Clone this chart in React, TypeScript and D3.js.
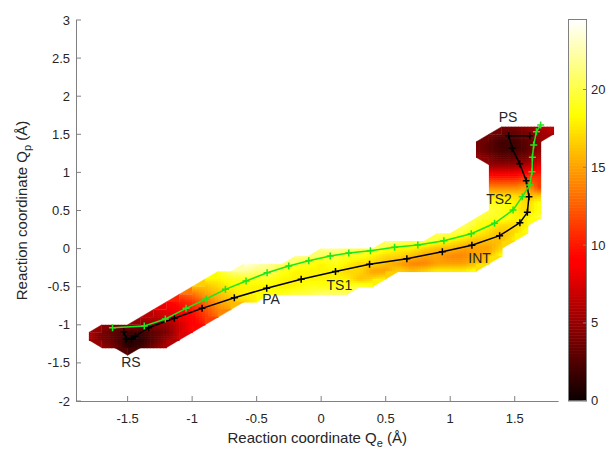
import React from "react";
import * as d3 from "d3";

// ---- data ----
const xDomain: [number, number] = [-1.9, 1.84];
const yDomain: [number, number] = [-2, 3];
const xTicks = [-1.5, -1, -0.5, 0, 0.5, 1, 1.5];
const yTicks = [-2, -1.5, -1, -0.5, 0, 0.5, 1, 1.5, 2, 2.5, 3];
const cTicks = [0, 5, 10, 15, 20];
const cDomain: [number, number] = [0, 24.5];

// energy grid: columns X = gridX0 + i*gridStep, rows Y = gridY0 - j*gridStep
const gridX0 = -1.8;
const gridY0 = 1.6;
const gridStep = 0.1;
const gridCols = 37;
const levelChars = "0123456789ABCDEFGHIJKLMNO"; // 0..24
// [first column index, values]
const energyRows: [number, string][] = [
  [32, "44567"],
  [31, "433456"],
  [30, "432235"],
  [30, "432235"],
  [30, "543346"],
  [31, "55568"],
  [31, "8889A"],
  [31, "BBBCB"],
  [31, "EEEFB"],
  [31, "HHHGG"],
  [31, "JJIHJ"],
  [31, "KJIHJ"],
  [30, "KJJIIK"],
  [29, "LJIHHI"],
  [27, "LKJIHGHJ"],
  [23, "MLKKJIHGGGI"],
  [18, "MMLKKJIIHGGFFFH"],
  [16, "MLKKJJIHHGFFEEFGJ"],
  [12, "ONMLKJIJIHHGFEEFFFGH"],
  [10, "JLMLLJIIIIHHFFHGHIIIJ"],
  [9, "IIJJJJIIIIIIGHI"],
  [8, "GGHIIIIIIJJJJKJ"],
  [7, "CDFGHIIJJKKLLL"],
  [6, "9ABDFGHI"],
  [5, "789ACEF"],
  [4, "66789BD"],
  [1, "54545579A"],
  [0, "643223479"],
  [0, "64311357"],
  [1, "541246"],
  [3, "3"],
];

const blackPath: [number, number][] = [
  [-1.53, -1.09], [-1.51, -1.19], [-1.47, -1.19], [-1.44, -1.15],
  [-1.337, -1.038], [-1.138, -0.915], [-0.923, -0.784], [-0.673, -0.644],
  [-0.422, -0.521], [-0.155, -0.403], [0.111, -0.3], [0.375, -0.206],
  [0.664, -0.133], [0.939, -0.04], [1.168, 0.043], [1.383, 0.17],
  [1.54, 0.34], [1.598, 0.476], [1.61, 0.681], [1.59, 0.889],
  [1.538, 1.115], [1.48, 1.316], [1.453, 1.482], [1.616, 1.482],
];

const greenPath: [number, number][] = [
  [-1.617, -1.038], [-1.371, -1.016], [-1.208, -0.924], [-1.047, -0.784],
  [-0.892, -0.661], [-0.742, -0.535], [-0.582, -0.426], [-0.419, -0.316],
  [-0.251, -0.228], [-0.096, -0.159], [0.07, -0.097], [0.214, -0.058],
  [0.382, -0.028], [0.569, 0.017], [0.749, 0.047], [0.951, 0.104],
  [1.163, 0.196], [1.344, 0.332], [1.487, 0.507], [1.559, 0.681],
  [1.616, 0.835], [1.634, 1.009], [1.637, 1.198], [1.647, 1.36],
  [1.668, 1.534], [1.701, 1.622],
];

const stateLabels = ["RS", "PA", "TS1", "INT", "TS2", "PS"];
const stateX = [-1.474, -0.388, 0.141, 1.228, 1.378, 1.448];
const stateY = [-1.483, -0.66, -0.484, -0.127, 0.647, 1.731];

// ---- helpers ----
function hot(t: number): string {
  const c = (v: number) => Math.max(0, Math.min(1, v));
  const r = c((t + 0.015) / 0.375);
  const g = c((t - 0.375) / 0.375);
  const b = c((t - 0.75) / 0.25);
  return d3.rgb(r * 255, g * 255, b * 255).formatHex();
}

const FONT = "'Liberation Sans', Arial, Helvetica, sans-serif";
const TEXT = "#262626";
const AXIS = "#808080";

export default function App() {
  const left = 76, right = 558.6, top = 20, bottom = 401;
  const x = d3.scaleLinear().domain(xDomain).range([left, right]);
  const y = d3.scaleLinear().domain(yDomain).range([bottom, top]);
  const color = d3.scaleSequential(hot).domain(cDomain);

  // build node grid
  const nodes: (number | null)[][] = energyRows.map(([start, vals]) => {
    const row: (number | null)[] = new Array(gridCols).fill(null);
    vals.split("").forEach((ch, k) => {
      row[start + k] = levelChars.indexOf(ch);
    });
    return row;
  });
  const gx = (i: number) => gridX0 + i * gridStep;
  const gy = (j: number) => gridY0 - j * gridStep;

  const cells: React.ReactNode[] = [];
  const n = 4;
  for (let j = 0; j < nodes.length - 1; j++) {
    for (let i = 0; i < gridCols - 1; i++) {
      const v00 = nodes[j][i], v10 = nodes[j][i + 1];
      const v01 = nodes[j + 1][i], v11 = nodes[j + 1][i + 1];
      const corners: [number, number, number | null][] = [
        [i, j, v00], [i + 1, j, v10], [i + 1, j + 1, v11], [i, j + 1, v01],
      ];
      const def = corners.filter((c) => c[2] !== null);
      if (def.length === 4) {
        for (let a = 0; a < n; a++) {
          for (let b = 0; b < n; b++) {
            const u = (a + 0.5) / n, w = (b + 0.5) / n;
            const v =
              (v00 as number) * (1 - u) * (1 - w) +
              (v10 as number) * u * (1 - w) +
              (v01 as number) * (1 - u) * w +
              (v11 as number) * u * w;
            const x0 = x(gx(i + a / n)), x1 = x(gx(i + (a + 1) / n));
            const y0 = y(gy(j + b / n)), y1 = y(gy(j + (b + 1) / n));
            cells.push(
              <rect key={`c${i}-${j}-${a}-${b}`} x={x0} y={y0}
                width={x1 - x0 + 0.6} height={y1 - y0 + 0.6} fill={color(v)} />
            );
          }
        }
      } else if (def.length === 3) {
        const avg = d3.mean(def, (c) => c[2] as number) as number;
        const pts = def.map((c) => `${x(gx(c[0]))},${y(gy(c[1]))}`).join(" ");
        cells.push(
          <polygon key={`t${i}-${j}`} points={pts} fill={color(avg)}
            stroke={color(avg)} strokeWidth={0.5} />
        );
      }
    }
  }

  const line = d3.line<[number, number]>().x((d) => x(d[0])).y((d) => y(d[1]));
  const plus = (p: [number, number], col: string, key: string) => {
    const px = x(p[0]), py = y(p[1]), s = 3.5;
    return (
      <path key={key} d={`M${px - s},${py}H${px + s}M${px},${py - s}V${py + s}`}
        stroke={col} strokeWidth={1.5} />
    );
  };

  // colorbar
  const cbL = 568, cbR = 587, cbTop = 19.5, cbBot = 400.7;
  const cy = d3.scaleLinear().domain(cDomain).range([cbBot, cbTop]);
  const steps = 128;
  const cbRects = d3.range(steps).map((k) => {
    const v0 = cDomain[0] + (k / steps) * (cDomain[1] - cDomain[0]);
    const v1 = cDomain[0] + ((k + 1) / steps) * (cDomain[1] - cDomain[0]);
    return (
      <rect key={`cb${k}`} x={cbL} y={cy(v1)} width={cbR - cbL}
        height={cy(v0) - cy(v1) + 0.5} fill={color((v0 + v1) / 2)} />
    );
  });

  const green = "#1ee61e";

  return (
    <svg width={608} height={450} style={{ display: "block", position: "absolute", left: 0, top: 0 }}
      fontFamily={FONT}>
      <rect x={0} y={0} width={608} height={450} fill="#ffffff" />
      <g>{cells}</g>

      {/* paths */}
      <path d={line(blackPath) as string} fill="none" stroke="#000" strokeWidth={1.5} />
      {blackPath.map((p, k) => plus(p, "#000", `bp${k}`))}
      <path d={line(greenPath) as string} fill="none" stroke={green} strokeWidth={1.5} />
      {greenPath.map((p, k) => plus(p, green, `gp${k}`))}

      {/* state labels */}
      {stateLabels.map((t, k) => (
        <text key={t} x={x(stateX[k])} y={y(stateY[k])} textAnchor="middle"
          dominantBaseline="central" fontSize={14} fill={TEXT}>{t}</text>
      ))}

      {/* axes */}
      <line x1={left} x2={right} y1={bottom + 0.5} y2={bottom + 0.5} stroke={AXIS} />
      <line x1={left + 0.5} x2={left + 0.5} y1={top} y2={bottom} stroke={AXIS} />
      {xTicks.map((t) => (
        <g key={`xt${t}`}>
          <line x1={x(t)} x2={x(t)} y1={bottom} y2={bottom - 5} stroke={AXIS} />
          <text x={x(t)} y={423} textAnchor="middle" fontSize={13} fill={TEXT}>{t}</text>
        </g>
      ))}
      {yTicks.map((t) => (
        <g key={`yt${t}`}>
          <line x1={left} x2={left + 5} y1={y(t)} y2={y(t)} stroke={AXIS} />
          <text x={70} y={y(t)} textAnchor="end" dominantBaseline="central" fontSize={13} fill={TEXT}>{t}</text>
        </g>
      ))}
      <text x={(left + right) / 2} y={443} textAnchor="middle" fontSize={15} fill={TEXT}>
        Reaction coordinate Q<tspan dy={4} fontSize={11}>e</tspan><tspan dy={-4}> (Å)</tspan>
      </text>
      <text transform={`translate(27,${(top + bottom) / 2}) rotate(-90)`} textAnchor="middle"
        fontSize={15} fill={TEXT}>
        Reaction coordinate Q<tspan dy={4} fontSize={11}>p</tspan><tspan dy={-4}> (Å)</tspan>
      </text>

      {/* colorbar */}
      <g>{cbRects}</g>
      <rect x={cbL + 0.5} y={cbTop} width={cbR - cbL - 1} height={cbBot - cbTop}
        fill="none" stroke={AXIS} />
      {cTicks.map((t) => (
        <g key={`ct${t}`}>
          <line x1={cbR - 4} x2={cbR} y1={cy(t)} y2={cy(t)} stroke={AXIS} />
          <text x={591} y={cy(t)} dominantBaseline="central" fontSize={13} fill={TEXT}>{t}</text>
        </g>
      ))}
    </svg>
  );
}
